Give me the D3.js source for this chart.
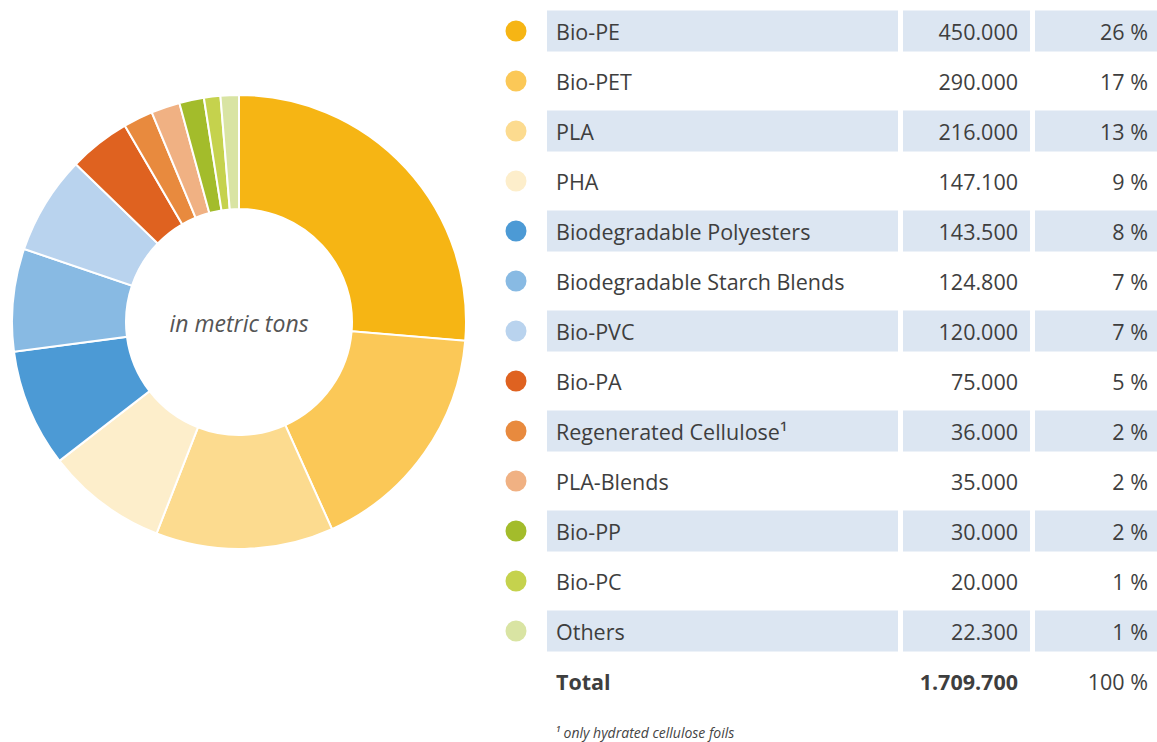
<!DOCTYPE html>
<html>
<head>
<meta charset="utf-8">
<script src="https://cdn.jsdelivr.net/npm/d3@7"></script>
<style>
  body { margin: 0; background: #fff; }
  svg { display: block; font-family: "Open Sans", "Noto Sans", sans-serif; }
  .cell-text { font-size: 21.5px; fill: #3e3e3e; }
</style>
</head>
<body>
<div id="chart"></div>
<script>
const width = 1157;
const height = 742;

// Data
const materials = ["Bio-PE", "Bio-PET", "PLA", "PHA", "Biodegradable Polyesters",
  "Biodegradable Starch Blends", "Bio-PVC", "Bio-PA", "Regenerated Cellulose¹",
  "PLA-Blends", "Bio-PP", "Bio-PC", "Others"];
const tons = [450000, 290000, 216000, 147100, 143500, 124800, 120000, 75000, 36000, 35000, 30000, 20000, 22300];
const shares = [26, 17, 13, 9, 8, 7, 7, 5, 2, 2, 2, 1, 1];
const colours = ["#f6b514", "#fbc857", "#fcdb8f", "#fdeecb", "#4c9ad5", "#88bae3", "#b9d3ee",
  "#df6220", "#e88a3e", "#f0b183", "#a3bc2b", "#c5d24d", "#d9e4a3"];
const totalLabel = "1.709.700";
const totalShare = "100 %";

const rows = materials.map((m, i) => ({ name: m, tons: tons[i], share: shares[i], colour: colours[i] }));

const svg = d3.select("#chart").append("svg")
  .attr("width", width)
  .attr("height", height);

// German style thousands separator
const fmtTons = d3.formatLocale({ decimal: ",", thousands: ".", grouping: [3], currency: ["", "€"] }).format(",d");

/*----------------------------- */
// Donut
const cx = 239, cy = 322;
const outerR = 227, innerR = 113;

const pie = d3.pie().value(d => d.tons).sort(null);
const arc = d3.arc().innerRadius(innerR).outerRadius(outerR);

const donut = svg.append("g").attr("transform", `translate(${cx},${cy})`);

donut.selectAll("path")
  .data(pie(rows))
  .join("path")
    .attr("d", arc)
    .attr("fill", d => d.data.colour)
    .attr("stroke", "#fff")
    .attr("stroke-width", 2);

donut.append("text")
  .text("in metric tons")
  .attr("text-anchor", "middle")
  .attr("dominant-baseline", "middle")
  .attr("y", 4)
  .style("font-style", "italic")
  .style("font-size", "23px")
  .attr("fill", "#555");

/*----------------------------- */
// Table
const rowScale = d3.scaleBand()
  .domain(d3.range(rows.length + 1))
  .range([6, 706])
  .paddingInner(0.18)
  .paddingOuter(0.09);

const cols = [
  { x0: 547, x1: 898 },
  { x0: 903, x1: 1030 },
  { x0: 1035, x1: 1157 }
];

const table = svg.append("g");

const rowG = table.selectAll("g.row")
  .data(rows)
  .join("g")
    .attr("class", "row")
    .attr("transform", (d, i) => `translate(0, ${rowScale(i)})`);

// shaded bands on every other row
rowG.filter((d, i) => i % 2 === 0)
  .selectAll("rect")
  .data(cols)
  .join("rect")
    .attr("x", c => c.x0)
    .attr("width", c => c.x1 - c.x0)
    .attr("height", rowScale.bandwidth())
    .attr("fill", "#dce6f2");

const mid = rowScale.bandwidth() / 2;

rowG.append("circle")
  .attr("cx", 516)
  .attr("cy", mid)
  .attr("r", 10.5)
  .attr("fill", d => d.colour);

rowG.append("text")
  .attr("class", "cell-text")
  .attr("x", 556)
  .attr("y", mid)
  .attr("dominant-baseline", "central")
  .text(d => d.name);

rowG.append("text")
  .attr("class", "cell-text")
  .attr("x", 1018)
  .attr("y", mid)
  .attr("text-anchor", "end")
  .attr("dominant-baseline", "central")
  .text(d => fmtTons(d.tons));

rowG.append("text")
  .attr("class", "cell-text")
  .attr("x", 1148)
  .attr("y", mid)
  .attr("text-anchor", "end")
  .attr("dominant-baseline", "central")
  .text(d => `${d.share} %`);

// Total row
const totalY = rowScale(rows.length) + mid;

table.append("text")
  .attr("class", "cell-text")
  .attr("x", 556).attr("y", totalY)
  .attr("dominant-baseline", "central")
  .style("font-weight", "bold")
  .text("Total");

table.append("text")
  .attr("class", "cell-text")
  .attr("x", 1018).attr("y", totalY)
  .attr("text-anchor", "end")
  .attr("dominant-baseline", "central")
  .style("font-weight", "bold")
  .text(totalLabel);

table.append("text")
  .attr("class", "cell-text")
  .attr("x", 1148).attr("y", totalY)
  .attr("text-anchor", "end")
  .attr("dominant-baseline", "central")
  .text(totalShare);

// footnote
table.append("text")
  .attr("x", 555)
  .attr("y", 738)
  .style("font-style", "italic")
  .style("font-size", "14px")
  .attr("fill", "#444")
  .text("¹ only hydrated cellulose foils");
</script>
</body>
</html>
